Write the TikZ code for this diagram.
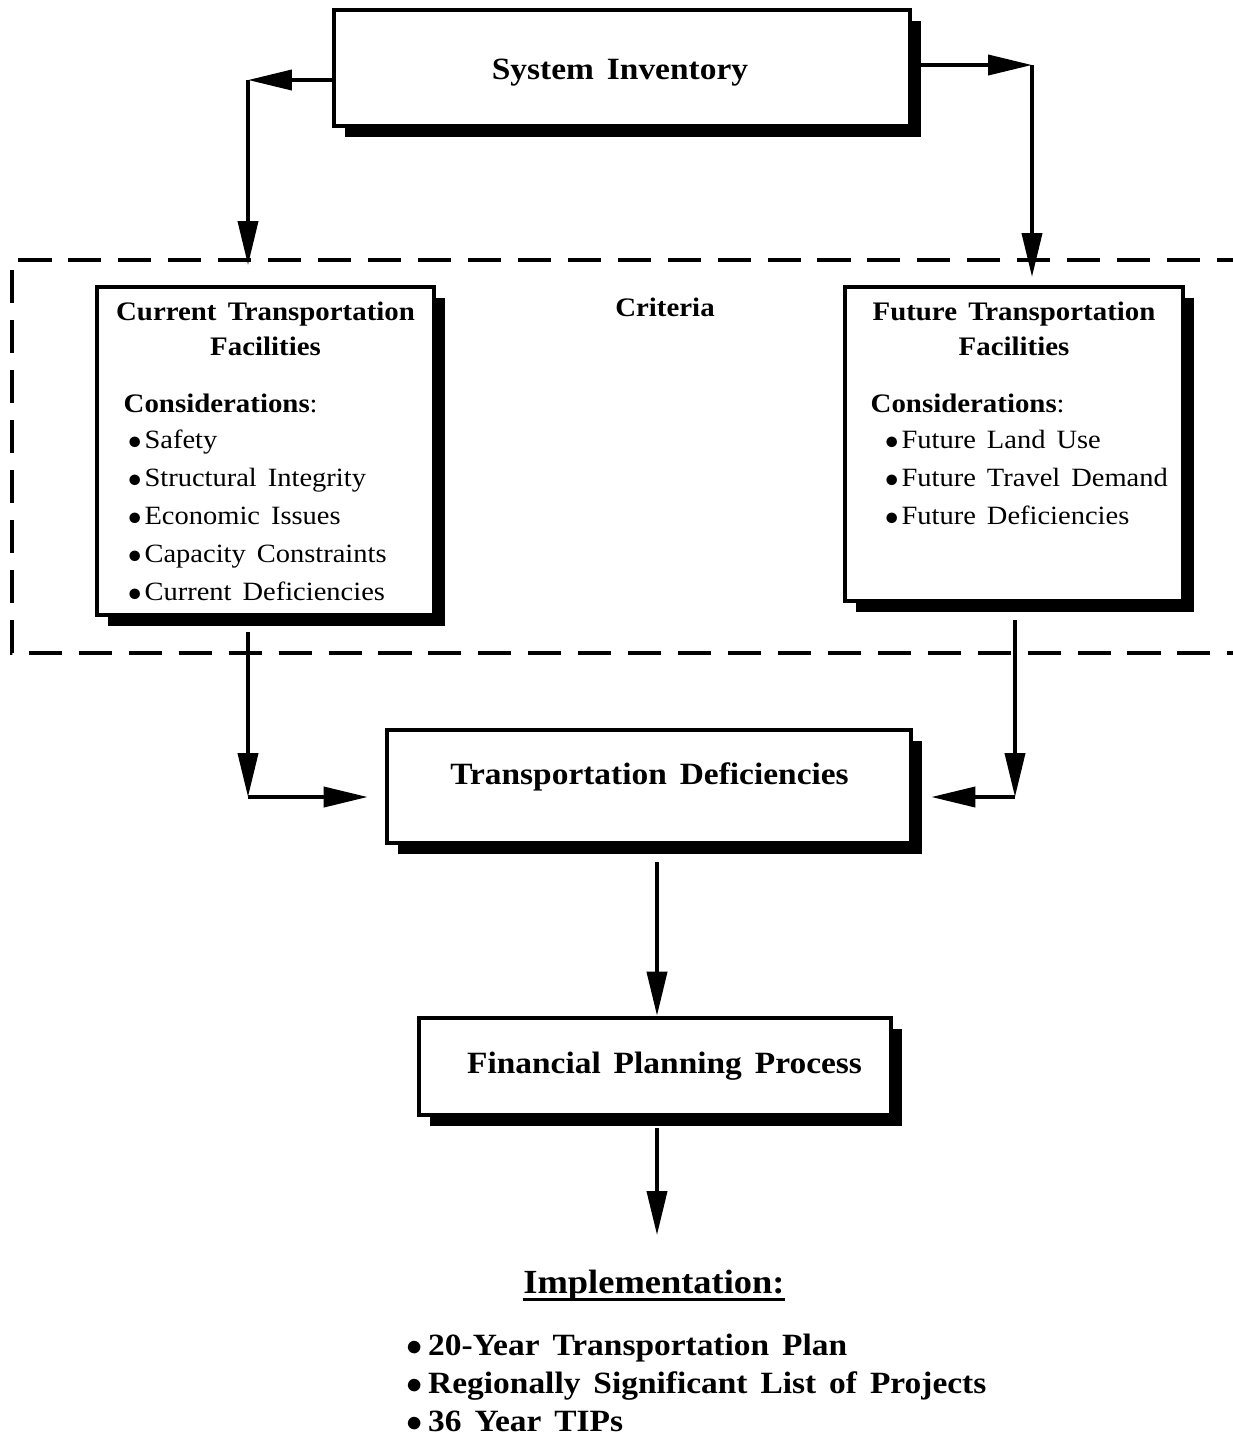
\documentclass[tikz,border=0pt]{standalone}
\usepackage{fontspec}
\setmainfont{Liberation Serif}[FakeStretch=1.08,WordSpace=1.55]
\usetikzlibrary{arrows.meta,shadows}

\newcommand{\bigfont}{\fontsize{8.8}{10.7}\selectfont\bfseries}
\newcommand{\headfont}{\fontsize{7.6}{10}\selectfont\bfseries}
\newcommand{\itemfont}{\fontsize{7.5}{10.8}\selectfont\mdseries}
\newcommand{\bul}{$\bullet$\hspace{0.7pt}}

\tikzset{
  box/.style={draw,line width=1.3pt,fill=white,inner sep=0pt,
    drop shadow={shadow xshift=3.1pt,shadow yshift=-3.1pt,fill=black,opacity=1}},
  arr/.style={line width=1.05pt,-{Triangle[length=12.5pt,width=5.7pt]}},
  big/.style={font=\bigfont,anchor=base,inner sep=0pt},
  head/.style={font=\headfont,anchor=base,inner sep=0pt},
  txt/.style={font=\itemfont,align=left,anchor=base west,inner sep=0pt},
}

\begin{document}
\begin{tikzpicture}[x=0.01cm,y=-0.01cm]
\useasboundingbox (0,0) rectangle (1232,1435);

% criteria frame
\draw [line width=1.2pt,dash pattern=on 9.4pt off 4.8pt] (1250,260) -- (12,260) -- (12,653) -- (1250,653) ;

% boxes
\node [box,minimum width=5.76cm,minimum height=1.16cm] (sys) at (622,68) {};
\node [big] (sysT) at (620,79) {System Inventory};

\node [box,minimum width=3.37cm,minimum height=3.28cm] (cur) at (265.5,451) {};
\node [head] (curT1) at (265.5,320) {Current Transportation};
\node [head] (curT2) at (265.5,355) {Facilities};
\node [txt] (curC) at (123,412) {\headfont Considerations\itemfont :};
% base anchor sits on the last line
\node [txt] (curL) at (127,600) {\bul Safety\\ \bul Structural Integrity\\ \bul Economic Issues\\ \bul Capacity Constraints\\ \bul Current Deficiencies};

\node [head] (crit) at (665,316) {Criteria};

\node [box,minimum width=3.38cm,minimum height=3.14cm] (fut) at (1014,444) {};
\node [head] (futT1) at (1014,320) {Future Transportation};
\node [head] (futT2) at (1014,355) {Facilities};
\node [txt] (futC) at (870,412) {\headfont Considerations\itemfont :};
\node [txt] (futL) at (884,524) {\bul Future Land Use\\ \bul Future Travel Demand\\ \bul Future Deficiencies};

\node [box,minimum width=5.24cm,minimum height=1.13cm] (def) at (649,786.5) {};
\node [big] (defT) at (649.5,784) {Transportation Deficiencies};

\node [box,minimum width=4.72cm,minimum height=0.97cm] (fin) at (655,1066.5) {};
\node [big] (finT) at (664.5,1073) {Financial Planning Process};

\node [big,font=\fontsize{9.6}{12}\selectfont\bfseries] (impl) at (654,1293) {Implementation:};
\draw [line width=0.9pt] ([yshift=-1.8pt]impl.base west) -- ([yshift=-1.8pt]impl.base east) ;
\node [txt,font=\bigfont] (implL) at (406,1431) {\bul\hspace{0.8pt}20-Year Transportation Plan\\ \bul\hspace{0.8pt}Regionally Significant List of Projects\\ \bul\hspace{0.8pt}36 Year TIPs};

% connectors
\coordinate (sysL) at (248,80);
\coordinate (sysLd) at (248,265);
\coordinate (sysR) at (1032,65);
\coordinate (sysRd) at (1032,277);
\draw [arr] (sys.west |- sysL) -- (sysL) ;
\draw [arr] (sysL) -- (sysLd) ;
\draw [arr] (sys.east |- sysR) -- (sysR) ;
\draw [arr] (sysR) -- (sysRd) ;

\coordinate (curS) at (248,632);
\coordinate (curE) at (248,797);
\draw [arr] (curS) -- (curE) ;
\draw [arr,shorten >=4.8pt] (curE) -- (def.west |- curE) ;

\coordinate (futS) at (1015,620);
\coordinate (futE) at (1015,797);
\draw [arr] (futS) -- (futE) ;
\draw [arr,shorten >=5.1pt] (futE) -- (def.east |- futE) ;

\coordinate (defS) at (657,862);
\draw [arr] (defS) -- (fin.north -| defS) ;
\coordinate (finS) at (657,1128);
\coordinate (finE) at (657,1235);
\draw [arr] (finS) -- (finE) ;

\end{tikzpicture}
\end{document}
